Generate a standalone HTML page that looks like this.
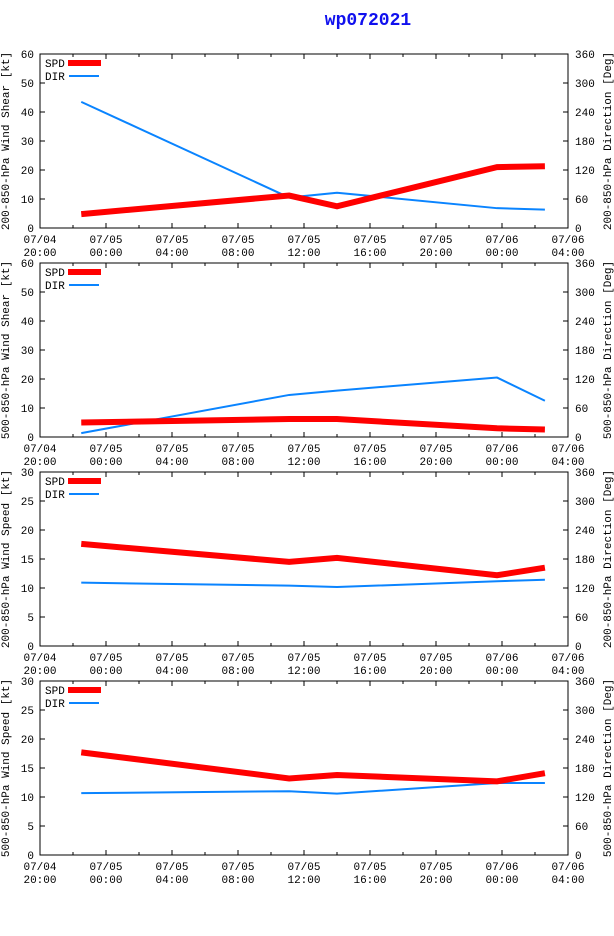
<!DOCTYPE html>
<html><head><meta charset="utf-8">
<style>
html,body{margin:0;padding:0;background:#fff;}
svg{display:block;font-family:"Liberation Mono","DejaVu Sans Mono",monospace;}
</style></head>
<body>
<svg id="chart" width="614" height="936" viewBox="0 0 614 936" xmlns="http://www.w3.org/2000/svg">
<text x="368" y="25" text-anchor="middle" font-size="18" font-weight="bold" fill="#1010ee">wp072021</text>
</svg>
<script>
// hours since 07/04 20:00
const times = [2.5, 15.1, 18.0, 27.7, 30.6];
const xTickDates = ["07/04","07/05","07/05","07/05","07/05","07/05","07/05","07/06","07/06"];
const xTickTimes = ["20:00","00:00","04:00","08:00","12:00","16:00","20:00","00:00","04:00"];
const spd1 = [4.8, 11.2, 7.5, 21.0, 21.3];
const dir1 = [261, 63, 73, 41, 38];
const spd2 = [5.0, 6.2, 6.2, 3.0, 2.6];
const dir2 = [8, 87, 96, 123, 75];
const spd3 = [17.6, 14.5, 15.2, 12.2, 13.5];
const dir3 = [131, 125, 122, 134, 137];
const spd4 = [17.7, 13.2, 13.8, 12.7, 14.1];
const dir4 = [128, 132, 127, 149, 149];
const leftTicks12 = [0,10,20,30,40,50,60];
const leftTicks34 = [0,5,10,15,20,25,30];
const rightTicks = [0,60,120,180,240,300,360];
const leftTitles = ["200-850-hPa Wind Shear [kt]","500-850-hPa Wind Shear [kt]","200-850-hPa Wind Speed [kt]","500-850-hPa Wind Speed [kt]"];
const rightTitles = ["200-850-hPa Direction [Deg]","500-850-hPa Direction [Deg]","200-850-hPa Direction [Deg]","500-850-hPa Direction [Deg]"];

const NS = "http://www.w3.org/2000/svg";
const svg = document.getElementById("chart");
const X0 = 40, X1 = 568, HOURS = 32;
const panelTops = [54, 263, 472, 681];
const PH = 174;
function mk(tag, attrs, parent){const e=document.createElementNS(NS,tag);for(const k in attrs)e.setAttribute(k,attrs[k]);(parent||svg).appendChild(e);return e;}
function xs(h){return X0 + h/HOURS*(X1-X0);}

const panels = [
 {spd:spd1, dir:dir1, lt:leftTicks12, lmax:60},
 {spd:spd2, dir:dir2, lt:leftTicks12, lmax:60},
 {spd:spd3, dir:dir3, lt:leftTicks34, lmax:30},
 {spd:spd4, dir:dir4, lt:leftTicks34, lmax:30}
];

panels.forEach((p, i) => {
  const top = panelTops[i], bot = top + PH;
  const g = mk("g", {});
  
  
  const ys = v => bot - v/p.lmax*PH;
  const yr = v => bot - v/360*PH;
  // frame
  const fr = mk("rect", {x:X0, y:top, width:X1-X0, height:PH, fill:"none", stroke:"#000", "stroke-width":1}, g);
  
  
  // x ticks (minor every 2h)
  for (let h = 0; h <= HOURS; h += 2) {
    const x = xs(h), len = (h % 4 === 0) ? 5 : 3;
    mk("line", {x1:x, x2:x, y1:bot, y2:bot-len, stroke:"#000"}, g);
    mk("line", {x1:x, x2:x, y1:top, y2:top+len, stroke:"#000"}, g);
  }
  xTickDates.forEach((d, k) => {
    const x = xs(k*4);
    const t1 = mk("text", {x:x, y:bot+15, "text-anchor":"middle", "font-size":11}, g);
    t1.textContent = d;
    
    
    const t2 = mk("text", {x:x, y:bot+28, "text-anchor":"middle", "font-size":11}, g);
    t2.textContent = xTickTimes[k];
    
    
  });
  // left ticks
  p.lt.forEach(v => {
    const y = ys(v);
    mk("line", {x1:X0, x2:X0+5, y1:y, y2:y, stroke:"#000"}, g);
    const t = mk("text", {x:X0-6, y:y+4, "text-anchor":"end", "font-size":11}, g);
    t.textContent = v;
    
    
  });
  rightTicks.forEach(v => {
    const y = yr(v);
    mk("line", {x1:X1, x2:X1-5, y1:y, y2:y, stroke:"#000"}, g);
    const t = mk("text", {x:X1+7, y:y+4, "text-anchor":"start", "font-size":11}, g);
    t.textContent = v;
    
    
  });
  const cy = (top+bot)/2;
  const lt = mk("text", {x:0, y:0, "text-anchor":"middle", "font-size":11, transform:`translate(9,${cy}) rotate(-90)`}, g);
  lt.textContent = leftTitles[i];
  
  
  const rt = mk("text", {x:0, y:0, "text-anchor":"middle", "font-size":11, transform:`translate(611,${cy}) rotate(-90)`}, g);
  rt.textContent = rightTitles[i];
  
  
  // series
  const dpts = times.map((h,k)=>xs(h)+","+yr(p.dir[k])).join(" ");
  const dl = mk("polyline", {points:dpts, fill:"none", stroke:"#0a84ff", "stroke-width":2}, g);
  
  
  const spts = times.map((h,k)=>xs(h)+","+ys(p.spd[k])).join(" ");
  const sl = mk("polyline", {points:spts, fill:"none", stroke:"#ff0000", "stroke-width":6}, g);
  
  
  // legend
  const l1 = mk("text", {x:45, y:top+13, "font-size":11}, g);
  l1.textContent = "SPD";
  
  
  mk("line", {x1:68, x2:101, y1:top+9, y2:top+9, stroke:"#ff0000", "stroke-width":6}, g);
  const l2 = mk("text", {x:45, y:top+26, "font-size":11}, g);
  l2.textContent = "DIR";
  
  
  mk("line", {x1:69, x2:99, y1:top+22, y2:top+22, stroke:"#0a84ff", "stroke-width":2}, g);
});
</script>
</body></html>
